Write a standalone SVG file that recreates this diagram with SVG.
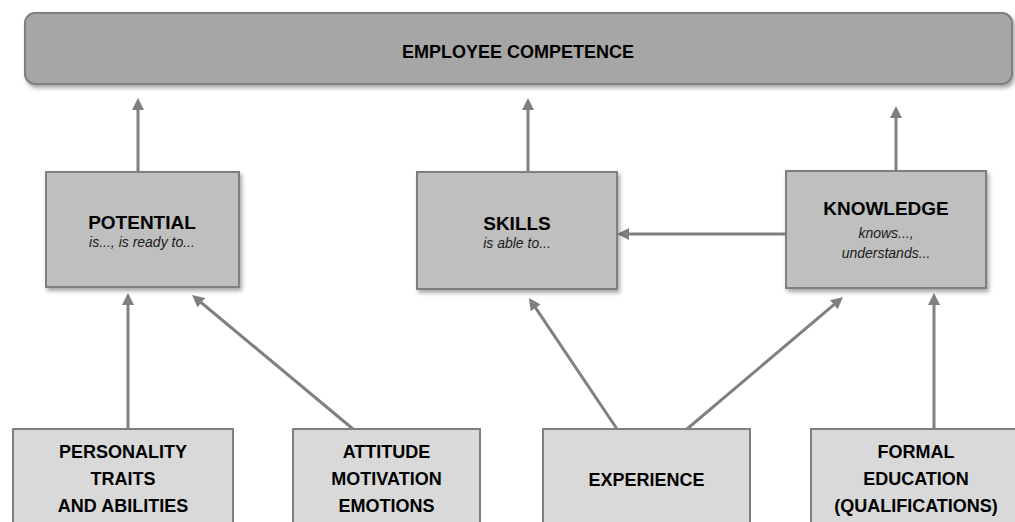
<svg xmlns="http://www.w3.org/2000/svg" width="1015" height="522" viewBox="0 0 1015 522">
<style>
.top{fill:#a6a6a6;stroke:#7f7f7f;stroke-width:2}
.mid{fill:#bfbfbf;stroke:#7f7f7f;stroke-width:2}
.bot{fill:#d9d9d9;stroke:#7f7f7f;stroke-width:2}
.t{font-family:"Liberation Sans",Arial,sans-serif;font-weight:bold;fill:#000;text-anchor:middle}
.h{font-size:19px}
.b{font-size:18px}
.s{font-family:"Liberation Sans",Arial,sans-serif;font-style:italic;font-size:14px;fill:#1a1a1a;text-anchor:middle}
.c{stroke:#808080;stroke-width:3;fill:none;marker-end:url(#ah)}
</style>
<defs>
<filter id="sh" x="-5%" y="-5%" width="115%" height="125%">
<feDropShadow dx="2" dy="3" stdDeviation="2" flood-color="#000" flood-opacity="0.35"/>
</filter>
<marker id="ah" viewBox="0 0 12 12" markerWidth="12" markerHeight="12" refX="1" refY="6" orient="auto" markerUnits="userSpaceOnUse">
<path d="M0,0 L12,6 L0,12 z" fill="#808080"/>
</marker>
</defs>
<rect width="1015" height="522" fill="#fff"/>
<g id="employee-competence">
<rect class="top" x="25" y="13" width="987" height="71" rx="10" filter="url(#sh)"/>
<text class="t b" x="518" y="58">EMPLOYEE COMPETENCE</text>
</g>
<g id="connectors">
<line class="c" x1="138" y1="172" x2="138" y2="109"/>
<line class="c" x1="528" y1="172" x2="528" y2="109"/>
<line class="c" x1="896" y1="171" x2="896" y2="117"/>
<line class="c" x1="786" y1="234" x2="628" y2="234"/>
<line class="c" x1="128" y1="429" x2="128" y2="304"/>
<line class="c" x1="353" y1="429" x2="200.5" y2="302"/>
<line class="c" x1="617" y1="429" x2="535.1" y2="307.1"/>
<line class="c" x1="687" y1="429" x2="834.6" y2="304.1"/>
<line class="c" x1="934" y1="429" x2="934" y2="304"/>
</g>
<g id="potential">
<rect class="mid" x="46" y="172" width="193" height="115" filter="url(#sh)"/>
<text class="t h" x="142" y="229">POTENTIAL</text>
<text class="s" x="142" y="247">is..., is ready to...</text>
</g>
<g id="skills">
<rect class="mid" x="417" y="172" width="200" height="117" filter="url(#sh)"/>
<text class="t h" x="517" y="230">SKILLS</text>
<text class="s" x="517" y="248">is able to...</text>
</g>
<g id="knowledge">
<rect class="mid" x="786" y="171" width="200" height="117" filter="url(#sh)"/>
<text class="t h" x="886" y="215">KNOWLEDGE</text>
<text class="s" x="886" y="238">knows...,</text>
<text class="s" x="886" y="258">understands...</text>
</g>
<g id="personality">
<rect class="bot" x="13" y="429" width="220" height="110"/>
<text class="t b" x="123" y="458">PERSONALITY</text>
<text class="t b" x="123" y="485">TRAITS</text>
<text class="t b" x="123" y="512">AND ABILITIES</text>
</g>
<g id="attitude">
<rect class="bot" x="293" y="429" width="187" height="110"/>
<text class="t b" x="386.5" y="458">ATTITUDE</text>
<text class="t b" x="386.5" y="485">MOTIVATION</text>
<text class="t b" x="386.5" y="512">EMOTIONS</text>
</g>
<g id="experience">
<rect class="bot" x="543" y="429" width="207" height="110"/>
<text class="t b" x="646.5" y="486">EXPERIENCE</text>
</g>
<g id="formal-education">
<rect class="bot" x="811" y="429" width="211" height="110"/>
<text class="t b" x="916" y="458">FORMAL</text>
<text class="t b" x="916" y="485">EDUCATION</text>
<text class="t b" x="916" y="512">(QUALIFICATIONS)</text>
</g>
</svg>
